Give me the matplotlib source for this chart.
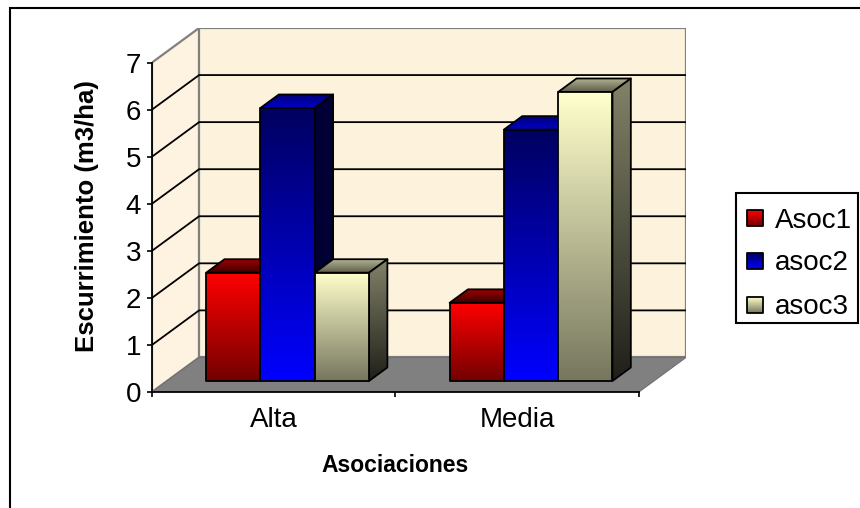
#!/usr/bin/env python3
import matplotlib
matplotlib.use('Agg')
import matplotlib.pyplot as plt
import numpy as np
from matplotlib.colors import to_rgb
from matplotlib.patches import Polygon, Rectangle

categories = ['Alta', 'Media']
series = ['Asoc1', 'asoc2', 'asoc3']
asoc1 = [2.3, 1.66]
asoc2 = [5.8, 5.34]
asoc3 = [2.3, 6.14]
y_ticks = [0, 1, 2, 3, 4, 5, 6, 7]

W, H = 860.0, 508.0
# front = (top, bottom), roof = (back, front), side = (top, bottom)
styles = {
    'Asoc1': dict(front=('#ff0000', '#730000'), roof=('#a00000', '#3a0000'), side=('#600000', '#200000')),
    'asoc2': dict(front=('#000060', '#0000ff'), roof=('#000078', '#0000c8'), side=('#000038', '#000030')),
    'asoc3': dict(front=('#ffffcc', '#77775f'), roof=('#b4b494', '#5c5c4a'), side=('#828268', '#20201a')),
}

# depth of the box, in data units
DX = 47 / 243.0
DY = 34.5 / 47.0
BAR_W = 0.223
D0, D1 = 0.32, 0.71


def px_rect(x0, y0, x1, y1):
    return [x0 / W, 1 - y1 / H, (x1 - x0) / W, (y1 - y0) / H]


def proj(x, y, d):
    return (x + d * DX, y + d * DY)


def grad_face(ax, pts, c_top, c_bot, z, edge='black', lw=1.3):
    pts = np.array(pts)
    grad = np.linspace(to_rgb(c_top), to_rgb(c_bot), 64)[:, None, :]
    im = ax.imshow(grad, extent=[pts[:, 0].min(), pts[:, 0].max(), pts[:, 1].min(), pts[:, 1].max()],
                   aspect='auto', interpolation='bilinear', zorder=z)
    poly = Polygon(pts, closed=True, fc='none', ec=edge, lw=lw, zorder=z + 0.1, joinstyle='round')
    ax.add_patch(poly)
    im.set_clip_path(poly)


def draw_bar(ax, x, h, st, z):
    x1 = x + BAR_W
    grad_face(ax, [proj(x, h, D0), proj(x1, h, D0), proj(x1, h, D1), proj(x, h, D1)],
              st['roof'][0], st['roof'][1], z)
    grad_face(ax, [proj(x1, 0, D0), proj(x1, 0, D1), proj(x1, h, D1), proj(x1, h, D0)],
              st['side'][0], st['side'][1], z + 1)
    grad_face(ax, [proj(x, 0, D0), proj(x1, 0, D0), proj(x1, h, D0), proj(x, h, D0)],
              st['front'][0], st['front'][1], z + 2)


def create_figure():
    plt.rcParams['font.family'] = ['Liberation Sans', 'DejaVu Sans']
    fig = plt.figure(figsize=(8.6, 5.08), dpi=100)

    # chart frame, only top and left show
    fig.add_artist(Rectangle((10 / W, -0.05), 1.1, 1 - 8 / H + 0.05, transform=fig.transFigure,
                             fc='white', ec='black', lw=1.5, zorder=-1))

    ax = fig.add_axes(px_rect(152, 28, 686, 392))
    ax.patch.set_visible(False)
    n = len(categories)
    y_top = y_ticks[-1]

    # walls and floor
    wall = '#fdf2dc'
    ax.add_patch(Polygon([proj(0, 0, 0), proj(0, 0, 1), proj(0, y_top, 1), proj(0, y_top, 0)],
                         fc='#fdf3e0', ec='#808080', lw=1.6, zorder=1))
    ax.add_patch(Polygon([proj(0, 0, 1), proj(n, 0, 1), proj(n, y_top, 1), proj(0, y_top, 1)],
                         fc=wall, ec='#808080', lw=1.6, zorder=1))
    ax.add_patch(Polygon([proj(0, 0, 0), proj(n, 0, 0), proj(n, 0, 1), proj(0, 0, 1)],
                         fc='#808080', ec='#707070', lw=0.8, zorder=1.5))
    for t in y_ticks[1:-1]:
        ax.plot(*zip(proj(0, t, 0), proj(0, t, 1), proj(n, t, 1)), color='black', lw=1.3, zorder=2)

    # bars
    z = 3
    all_vals = [asoc1, asoc2, asoc3]
    for i in range(n):
        start = i + 0.495 - 1.5 * BAR_W
        for j, name in enumerate(series):
            draw_bar(ax, start + j * BAR_W, all_vals[j][i], styles[name], z)
            z += 3

    ax.set_xlim(0, n + DX)
    ax.set_ylim(0, y_top + DY)
    for s in ['top', 'right']:
        ax.spines[s].set_visible(False)
    ax.spines['left'].set_bounds(0, y_top)
    ax.spines['bottom'].set_bounds(0, n)
    for s in ['left', 'bottom']:
        ax.spines[s].set_linewidth(1.3)

    ax.set_yticks(y_ticks)
    ax.set_xticks(range(n + 1))
    ax.set_xticklabels([])
    ax.set_xticks([i + 0.5 for i in range(n)], minor=True)
    ax.set_xticklabels(categories, minor=True, fontsize=20)
    ax.tick_params(axis='y', length=3.8, width=1.2, labelsize=20, pad=4)
    ax.tick_params(axis='x', which='major', length=3.8, width=1.2)
    ax.tick_params(axis='x', which='minor', length=0, pad=11)

    fig.text(87.5 / W, 1 - 216 / H, 'Escurrimiento (m3/ha)', rotation=90, fontsize=18.5,
             fontweight='bold', ha='center', va='center')
    fig.text(395 / W, 1 - 465 / H, 'Asociaciones', fontsize=16.5, fontweight='bold',
             ha='center', va='center')

    # legend
    lax = fig.add_axes(px_rect(0, 0, W, H))
    lax.patch.set_visible(False)
    lax.add_patch(Rectangle((735.5, 193), 122.5, 130, fc='white', ec='black', lw=1.5, zorder=1))
    for name, yc in zip(series, [218, 261, 305]):
        st = styles[name]
        grad_face(lax, [(747, yc - 8), (763, yc - 8), (763, yc + 8), (747, yc + 8)],
                  st['front'][1], st['front'][0], 2, lw=1.3)
        lax.text(775, yc + 9.5, name, fontsize=20, ha='left', va='baseline', zorder=5)
    lax.set_xlim(0, W)
    lax.set_ylim(H, 0)
    lax.axis('off')

    fig.savefig('out.png', dpi=100)
    plt.close(fig)


def main():
    create_figure()


if __name__ == '__main__':
    main()
